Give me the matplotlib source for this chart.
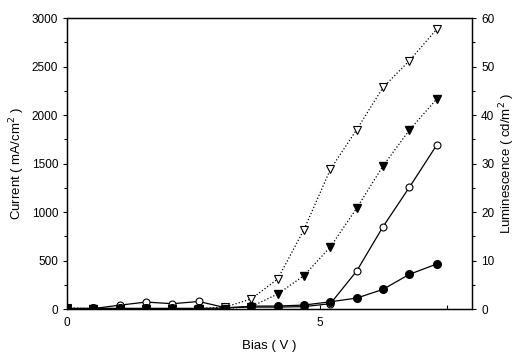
import matplotlib.pyplot as plt
from matplotlib.ticker import MultipleLocator

plt.rcParams['font.family'] = ['Liberation Sans', 'DejaVu Sans']

# bias points (V)
bias = [0, 0.52, 1.04, 1.56, 2.08, 2.6, 3.12, 3.64, 4.16, 4.68, 5.2, 5.72, 6.24, 6.76, 7.3]

# current (mA/cm2), left axis
cur_open = [5, 5, 40, 72, 55, 78, 15, 20, 20, 25, 55, 392, 849, 1255, 1690]
cur_fill = [7, 7, 7, 7, 7, 7, 10, 30, 31, 41, 75, 113, 203, 358, 464]

# luminescence (cd/m2), right axis
lum_open = [0.2, 0.1, 0.1, 0.1, 0.1, 0.1, 0.4, 2.1, 6.2, 16.4, 28.8, 37.0, 45.7, 51.2, 57.7]
lum_fill = [0.1, 0.0, 0.0, 0.0, 0.0, 0.0, 0.1, 0.5, 3.1, 6.9, 12.8, 20.8, 29.5, 36.9, 43.3]

fig = plt.figure(figsize=(5.16, 3.54), dpi=100)
ax = fig.add_axes([0.130, 0.127, 0.785, 0.822])
ax2 = ax.twinx()

ax.plot(bias, cur_open, color='black', linewidth=0.9, marker='o', markersize=5,
        markerfacecolor='white', markeredgecolor='black', markeredgewidth=0.8)
ax.plot(bias, cur_fill, color='black', linewidth=0.9, marker='o', markersize=5.5,
        markerfacecolor='black', markeredgecolor='black')
ax2.plot(bias, lum_open, color='black', linewidth=0.9, linestyle=':', marker='v', markersize=5.5,
         markerfacecolor='white', markeredgecolor='black', markeredgewidth=0.8)
ax2.plot(bias, lum_fill, color='black', linewidth=0.9, linestyle=':', marker='v', markersize=5.5,
         markerfacecolor='black', markeredgecolor='black')

ax.set_xlim(0, 8)
ax.set_ylim(0, 3000)
ax2.set_ylim(0, 60)

ax.xaxis.set_major_locator(MultipleLocator(5))
ax.xaxis.set_minor_locator(MultipleLocator(2.5))
ax.yaxis.set_major_locator(MultipleLocator(500))
ax.yaxis.set_minor_locator(MultipleLocator(250))
ax2.yaxis.set_major_locator(MultipleLocator(10))
ax2.yaxis.set_minor_locator(MultipleLocator(5))

ax.tick_params(axis='x', which='both', direction='in', length=3, width=0.8, labelsize=8.5, pad=6)
ax.tick_params(axis='y', which='major', direction='out', length=3, width=0.8, labelsize=8.5)
ax.tick_params(axis='y', which='minor', direction='out', length=2, width=0.8)
ax2.tick_params(axis='y', which='major', direction='out', length=3, width=0.8, labelsize=8.5)
ax2.tick_params(axis='y', which='minor', direction='out', length=2, width=0.8)

for a in (ax, ax2):
    for s in a.spines.values():
        s.set_linewidth(0.9)

ax.set_xlabel('Bias ( V )', fontsize=9.5, labelpad=8)
ax.set_ylabel('Current ( mA/cm$^2$ )', fontsize=9.5, labelpad=3)
ax2.set_ylabel('Luminescence ( cd/m$^2$ )', fontsize=9.5, labelpad=2)

fig.savefig('out.png', dpi=100)
